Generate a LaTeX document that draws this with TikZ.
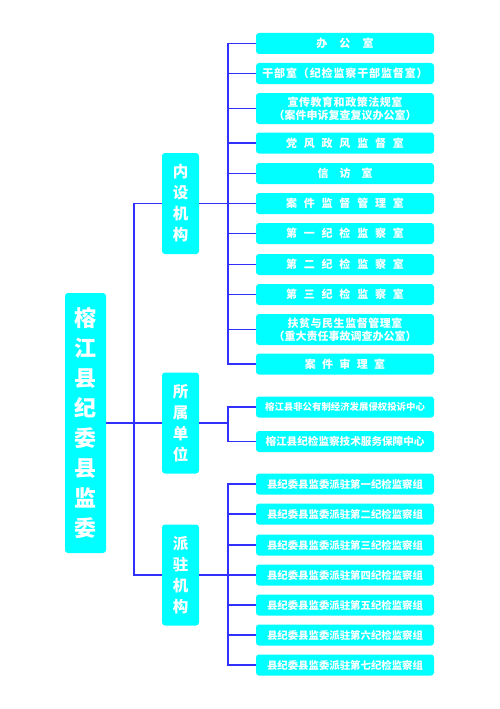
\documentclass[tikz,border=0pt]{standalone}
\usepackage{fontspec}
\newfontfamily\cjk{Noto Sans CJK SC}[Kerning=Off]
\definecolor{boxcyan}{HTML}{00FFFF}
\definecolor{lineblue}{HTML}{3030FF}
\newcommand\ls[2]{{\addfontfeature{LetterSpace=#1}#2}}
\begin{document}
\begin{tikzpicture}[x=1pt,y=-1pt,
  box/.style={fill=boxcyan,draw=none,rounded corners=3pt,text=white,inner sep=0pt,align=center},
  rootbox/.style={box,minimum width=41pt,minimum height=260pt,font=\cjk\bfseries\fontsize{22}{30}\selectfont},
  midbox/.style={box,minimum width=37pt,minimum height=101pt,font=\cjk\bfseries\fontsize{15.5}{21}\selectfont},
  leaf/.style={box,minimum width=178pt,minimum height=21pt,font=\cjk\bfseries\fontsize{11}{13}\selectfont},
  leaftwo/.style={leaf,minimum height=31pt},
  leafsm/.style={leaf,font=\cjk\bfseries\fontsize{10.4}{13}\selectfont},
  conn/.style={draw=lineblue,line width=1.4pt}]
\useasboundingbox (0,0) rectangle (500,709);
% root and middle level
\node[rootbox] (root) at (85.5,423) {榕\\江\\县\\纪\\委\\县\\监\\委};
\node[midbox] (m1) at (180.5,203.5) {内\\设\\机\\构};
\node[midbox] (m2) at (180.5,423) {所\\属\\单\\位};
\node[midbox] (m3) at (180.5,575) {派\\驻\\机\\构};
% leaves group 1
\node[leaf] (a1) at (345,43.5) {\ls{110}{办公室}};
\node[leaf] (a2) at (345,73.5) {\ls{8}{干部室（纪检监察干部监督室）}};
\node[leaftwo] (a3) at (345,108.5) {\ls{5}{宣传教育和政策法规室}\\（案件申诉复查复议办公室）};
\node[leaf] (a4) at (345,143) {\ls{62}{党风政风监督室}};
\node[leaf] (a5) at (345,173.5) {\ls{100}{信访室}};
\node[leaf] (a6) at (345,203.5) {\ls{62}{案件监督管理室}};
\node[leaf] (a7) at (345,233.5) {\ls{62}{第一纪检监察室}};
\node[leaf] (a8) at (345,264.5) {\ls{62}{第二纪检监察室}};
\node[leaf] (a9) at (345,294.5) {\ls{62}{第三纪检监察室}};
\node[leaftwo] (a10) at (345,329.5) {\ls{5}{扶贫与民生监督管理室}\\（重大责任事故调查办公室）};
\node[leaf] (a11) at (345,364) {\ls{57}{案件审理室}};
% leaves group 2
\node[leaf,font=\cjk\bfseries\fontsize{9.4}{13}\selectfont] (b1) at (345,407) {榕江县非公有制经济发展侵权投诉中心};
\node[leafsm,font=\cjk\bfseries\fontsize{10.6}{13}\selectfont] (b2) at (345,441.5) {榕江县纪检监察技术服务保障中心};
% leaves group 3
\node[leafsm] (c1) at (345,484) {县纪委县监委派驻第一纪检监察组};
\node[leafsm] (c2) at (345,514) {县纪委县监委派驻第二纪检监察组};
\node[leafsm] (c3) at (345,545) {县纪委县监委派驻第三纪检监察组};
\node[leafsm] (c4) at (345,575) {县纪委县监委派驻第四纪检监察组};
\node[leafsm] (c5) at (345,605) {县纪委县监委派驻第五纪检监察组};
\node[leafsm] (c6) at (345,635) {县纪委县监委派驻第六纪检监察组};
\node[leafsm] (c7) at (345,665) {县纪委县监委派驻第七纪检监察组};
% connectors
\coordinate (t) at (134,423);
\coordinate (g1) at (228,203.5);
\coordinate (g2) at (228,423);
\coordinate (g3) at (228,575);
\draw[conn] (root.east) -- (m2.west);
\draw[conn] (m1.west) -| (t) |- (m3.west);
\draw[conn] (m1.east) -- (g1);
\draw[conn] (m2.east) -- (g2);
\draw[conn] (m3.east) -- (g3);
\foreach \n in {a1,a2,a3,a4,a5,a6,a7,a8,a9,a10,a11} \draw[conn] (g1) |- (\n.west);
\foreach \n in {b1,b2} \draw[conn] (g2) |- (\n.west);
\foreach \n in {c1,c2,c3,c4,c5,c6,c7} \draw[conn] (g3) |- (\n.west);
\end{tikzpicture}
\end{document}
